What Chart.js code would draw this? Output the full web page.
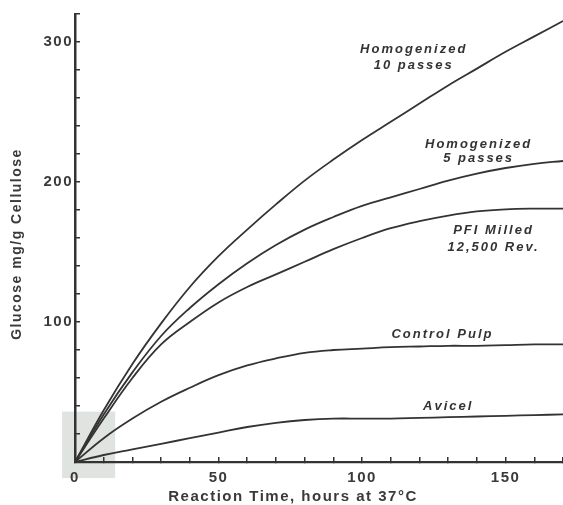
<!DOCTYPE html>
<html>
<head>
<meta charset="utf-8">
<script src="https://cdn.jsdelivr.net/npm/chart.js@4/dist/chart.umd.min.js"></script>
<style>
  html, body { margin: 0; padding: 0; background: #ffffff; }
  #wrap { width: 563px; height: 505px; position: relative; }
</style>
</head>
<body>
<div id="wrap"><canvas id="c"></canvas></div>
<script>
// ---- data ----
const hours = [0, 10, 20, 30, 40, 50, 60, 70, 80, 90, 100, 110, 120, 130, 140, 150, 160, 170];
const homogenized10 = [0, 37, 70, 99, 125, 147, 166, 184, 201, 216, 230, 243, 256, 269, 281, 293, 304, 315];
const homogenized5  = [0, 34, 64, 90, 110, 127, 142, 155, 166, 175, 183, 189, 195, 201, 206, 210, 213, 215];
const pfiMilled     = [0, 31, 60, 84, 100, 114, 125, 134, 143, 152, 160, 167, 172, 176, 179, 180.5, 181, 181];
const controlPulp   = [0, 17, 31, 43, 53, 62, 69, 74, 78, 80, 81, 82, 82.5, 83, 83, 83.5, 84, 84];
const avicel        = [0, 5, 9, 13, 17, 21, 25, 28, 30, 31, 31, 31, 31.5, 32, 32.5, 33, 33.5, 34];
const seriesNames = ['Homogenized 10 passes', 'Homogenized 5 passes', 'PFI Milled 12,500 Rev.', 'Control Pulp', 'Avicel'];
const xLabeledTicks = [0, 50, 100, 150];
const yLabeledTicks = [100, 200, 300];
const xTitle = 'Reaction Time, hours at 37°C';
const yTitle = 'Glucose mg/g Cellulose';
// curve labels: text lines and anchor (data coordinates)
const curveLabels = [
  { lines: ['Homogenized', '10 passes'], x: 118, y: [295, 283] },
  { lines: ['Homogenized', '5 passes'], x: 140.6, y: [227, 217] },
  { lines: ['PFI Milled', '12,500 Rev.'], x: 145.8, y: [165.6, 153.4] },
  { lines: ['Control Pulp'], x: 128, y: [91] },
  { lines: ['Avicel'], x: 130, y: [39.4] }
];

const allSeries = [homogenized10, homogenized5, pfiMilled, controlPulp, avicel];
const ink = '#333333';

const datasets = allSeries.map((vals, i) => ({
  label: seriesNames[i],
  data: hours.map((h, k) => ({ x: h, y: vals[k] })),
  borderColor: ink,
  borderWidth: 1.8,
  pointRadius: 0,
  fill: false,
  tension: 0.4
}));

const decor = {
  id: 'decor',
  beforeDraw(chart) {
    const ctx = chart.ctx;
    const xs = chart.scales.x, ys = chart.scales.y;
    // photocopy patch near the origin
    const l = xs.getPixelForValue(-4.5), r = xs.getPixelForValue(14);
    const t = ys.getPixelForValue(36), b = ys.getPixelForValue(-11.5);
    ctx.save();
    ctx.fillStyle = '#dfe4e1';
    ctx.fillRect(l, t, r - l, b - t);
    ctx.restore();
    ctx.letterSpacing = '1.5px';
  },
  afterDraw(chart) {
    const ctx = chart.ctx;
    const xs = chart.scales.x, ys = chart.scales.y;
    ctx.save();
    ctx.fillStyle = ink;
    ctx.textAlign = 'center';
    ctx.textBaseline = 'middle';
    ctx.letterSpacing = '2px';
    ctx.font = 'italic bold 13px "Liberation Sans", Arial, sans-serif';
    curveLabels.forEach(lb => {
      lb.lines.forEach((txt, j) => {
        ctx.fillText(txt, xs.getPixelForValue(lb.x), ys.getPixelForValue(lb.y[j]));
      });
    });
    // axis titles
    ctx.letterSpacing = '1.5px';
    ctx.font = 'bold 15px "Liberation Sans", Arial, sans-serif';
    ctx.fillStyle = '#3a3a3a';
    ctx.fillText(xTitle, 293, 497);
    ctx.translate(17, (ys.top + ys.bottom) / 2 + 6);
    ctx.rotate(-Math.PI / 2);
    ctx.font = 'bold 14px "Liberation Sans", Arial, sans-serif';
    ctx.fillText(yTitle, 0, 0);
    ctx.restore();
  }
};

new Chart(document.getElementById('c'), {
  type: 'line',
  data: { datasets },
  plugins: [decor],
  options: {
    responsive: true,
    maintainAspectRatio: false,
    animation: false,
    layout: { padding: { left: 0, top: 14, right: 0, bottom: 0 } },
    plugins: { legend: { display: false }, tooltip: { enabled: false } },
    scales: {
      x: {
        type: 'linear', min: 0, max: 170,
        border: { color: ink, width: 2.2 },
        grid: { drawOnChartArea: false, color: ink, lineWidth: 1.5, tickLength: -5 },
        ticks: {
          stepSize: 10, autoSkip: false, maxRotation: 0, padding: 12,
          color: '#3a3a3a',
          font: { family: '"Liberation Sans", Arial, sans-serif', size: 15, weight: 'bold' },
          callback: v => xLabeledTicks.includes(v) ? String(v) : ''
        },
        afterFit(scale) { scale.height = 43; scale.paddingLeft = 0; scale.paddingRight = 0; }
      },
      y: {
        type: 'linear', min: 0, max: 320,
        border: { color: ink, width: 2.5 },
        grid: { drawOnChartArea: false, color: ink, lineWidth: 1.5, tickLength: -5 },
        ticks: {
          stepSize: 20, autoSkip: false, padding: 7,
          color: '#3a3a3a',
          font: { family: '"Liberation Sans", Arial, sans-serif', size: 15, weight: 'bold' },
          callback: v => yLabeledTicks.includes(v) ? String(v) : ''
        },
        afterFit(scale) { scale.width = 75; scale.paddingTop = 0; scale.paddingBottom = 0; }
      }
    }
  }
});
</script>
</body>
</html>
